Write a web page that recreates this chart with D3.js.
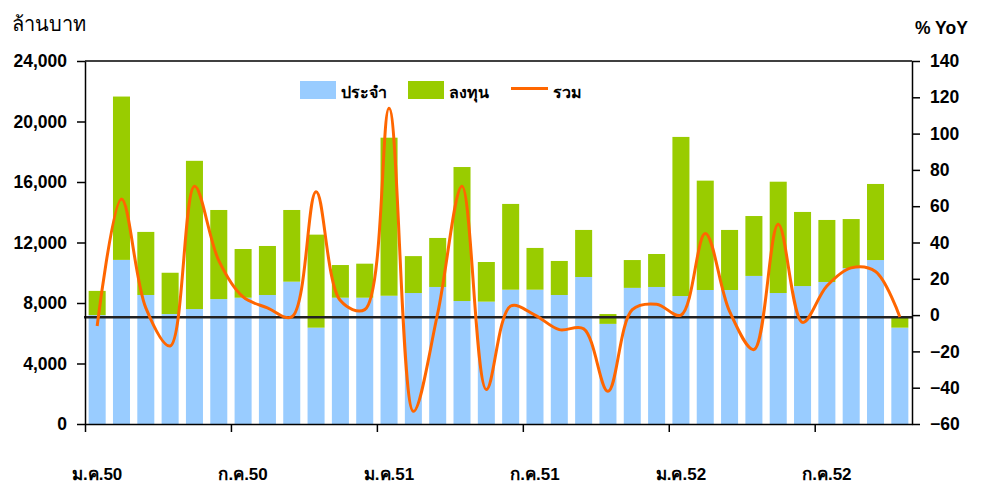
<!DOCTYPE html>
<html>
<head>
<meta charset="utf-8">
<script src="https://cdn.jsdelivr.net/npm/d3@7"></script>
<style>
  html, body { margin: 0; padding: 0; background: #fff; }
  svg { display: block; font-family: "Liberation Sans", Arial, sans-serif; }
</style>
</head>
<body>
<svg id="chart" width="985" height="483"></svg>
<script>
// ---- Data ----
const months = [
  "ม.ค.50","ก.พ.50","มี.ค.50","เม.ย.50","พ.ค.50","มิ.ย.50","ก.ค.50","ส.ค.50","ก.ย.50","ต.ค.50","พ.ย.50","ธ.ค.50",
  "ม.ค.51","ก.พ.51","มี.ค.51","เม.ย.51","พ.ค.51","มิ.ย.51","ก.ค.51","ส.ค.51","ก.ย.51","ต.ค.51","พ.ย.51","ธ.ค.51",
  "ม.ค.52","ก.พ.52","มี.ค.52","เม.ย.52","พ.ค.52","มิ.ย.52","ก.ค.52","ส.ค.52","ก.ย.52","ต.ค.52"
];
// ประจำ (current expenditure), million baht
const current = [
  7200,10850,8530,7270,7600,8260,8350,8530,9410,6370,8350,8350,
  8480,8660,9060,8130,8090,8880,8880,8530,9720,6620,9000,9060,
  8460,8860,8860,9790,8660,9120,9390,10310,10840,6370
];
// ลงทุน (capital expenditure), million baht
const capital = [
  1600,10800,4170,2730,9800,5890,3220,3240,4740,6150,2160,2250,
  10450,2440,3240,8860,2620,5670,2760,2250,3110,650,1840,2180,
  10520,7230,3970,3960,7360,4900,4100,3240,5030,710
];
// รวม (total) % YoY
const yoy = [
  -6,64,4,-17,71,30,10,4,-1,68,8,3,
  114,-53,1,71,-41,5,0,-8,-7.5,-42,3,6,
  0,45,2,-19,50,-4,16,26,24,-1
];
const leftTicks = [0,4000,8000,12000,16000,20000,24000];
const rightTicks = [-60,-40,-20,0,20,40,60,80,100,120,140];
const xTickLabels = ["ม.ค.50","ก.ค.50","ม.ค.51","ก.ค.51","ม.ค.52","ก.ค.52"];
const seriesNames = ["ประจำ","ลงทุน","รวม"];
const refLineValue = 7050; // horizontal reference line (left scale)

// ---- Layout ----
const L = 85, R = 912, T = 61, B = 424;
const colBlue = "#99CCFF", colGreen = "#99CC00", colOrange = "#FF6600";

const svg = d3.select("#chart");
const x = d3.scaleBand().domain(months).range([L, R]).paddingInner(0.3).paddingOuter(0.15);
const xIdx = d3.scaleLinear().domain([0, months.length]).range([L, R]);
const yL = d3.scaleLinear().domain([0, 24000]).range([B, T]);
const yR = d3.scaleLinear().domain([-60, 140]).range([B, T]);

const rows = months.map((m, i) => ({ m, cur: current[i], cap: capital[i], yoy: yoy[i] }));

// bars
const bars = svg.append("g");
bars.selectAll("rect.cur").data(rows).join("rect")
  .attr("x", d => x(d.m)).attr("width", x.bandwidth())
  .attr("y", d => yL(d.cur)).attr("height", d => yL(0) - yL(d.cur))
  .attr("fill", colBlue);
bars.selectAll("rect.cap").data(rows).join("rect")
  .attr("x", d => x(d.m)).attr("width", x.bandwidth())
  .attr("y", d => yL(d.cur + d.cap)).attr("height", d => yL(d.cur) - yL(d.cur + d.cap))
  .attr("fill", colGreen);

// reference line
svg.append("line")
  .attr("x1", L - 1).attr("x2", R + 1)
  .attr("y1", yL(refLineValue)).attr("y2", yL(refLineValue))
  .attr("stroke", "#222").attr("stroke-width", 2.5);

// line
const line = d3.line()
  .x(d => x(d.m) + x.bandwidth() / 2)
  .y(d => yR(d.yoy))
  .curve(d3.curveCatmullRom.alpha(0.5));
svg.append("path").datum(rows)
  .attr("d", line)
  .attr("fill", "none").attr("stroke", colOrange).attr("stroke-width", 3)
  .attr("stroke-linejoin", "round");

// frame: top line
svg.append("line").attr("x1", L).attr("x2", R).attr("y1", T).attr("y2", T)
  .attr("stroke", "#000").attr("stroke-width", 1.5);

// left axis
const gL = svg.append("g").attr("transform", `translate(${L},0)`)
  .call(d3.axisLeft(yL).tickValues(leftTicks).tickFormat(d3.format(",")).tickSize(8).tickSizeOuter(0).tickPadding(10));
// right axis
const gR = svg.append("g").attr("transform", `translate(${R},0)`)
  .call(d3.axisRight(yR).tickValues(rightTicks).tickFormat(d3.format("d")).tickSize(8).tickSizeOuter(0).tickPadding(10));
// bottom axis
const gB = svg.append("g").attr("transform", `translate(0,${B})`)
  .call(d3.axisBottom(xIdx).tickValues([0,6,12,18,24,30]).tickFormat("").tickSize(8).tickSizeOuter(0));

[gL, gR, gB].forEach(g => {
  g.select(".domain").attr("stroke", "#000").attr("stroke-width", 1.5);
  g.selectAll(".tick line").attr("stroke", "#000").attr("stroke-width", 1.5);
  g.selectAll("text").attr("fill", "#000").style("font-size", "17.5px").style("font-weight", "bold")
    .style("font-family", '"Liberation Sans", Arial, sans-serif');
});

// x labels (centered on month)
svg.append("g").selectAll("text").data(xTickLabels).join("text")
  .attr("x", (d, i) => x(months[i * 6]) + x.bandwidth() / 2)
  .attr("y", 480)
  .attr("text-anchor", "middle")
  .style("font-size", "17px").style("font-weight", "bold")
  .text(d => d);

// titles
svg.append("text").attr("x", 12).attr("y", 31).style("font-size", "20px").attr("fill", "#000").text("ล้านบาท");
svg.append("text").attr("x", 915).attr("y", 34).style("font-size", "17.5px").style("font-weight", "bold").text("% YoY");

// legend
const lg = svg.append("g");
lg.append("rect").attr("x", 300).attr("y", 81).attr("width", 36).attr("height", 18).attr("fill", colBlue);
lg.append("text").attr("x", 341).attr("y", 98).style("font-size", "16px").style("font-weight", "bold").text(seriesNames[0]);
lg.append("rect").attr("x", 408).attr("y", 81).attr("width", 36).attr("height", 18).attr("fill", colGreen);
lg.append("text").attr("x", 449).attr("y", 98).style("font-size", "16px").style("font-weight", "bold").text(seriesNames[1]);
lg.append("line").attr("x1", 511).attr("x2", 548).attr("y1", 88.5).attr("y2", 88.5).attr("stroke", colOrange).attr("stroke-width", 3);
lg.append("text").attr("x", 553).attr("y", 98).style("font-size", "16px").style("font-weight", "bold").text(seriesNames[2]);
</script>
</body>
</html>
